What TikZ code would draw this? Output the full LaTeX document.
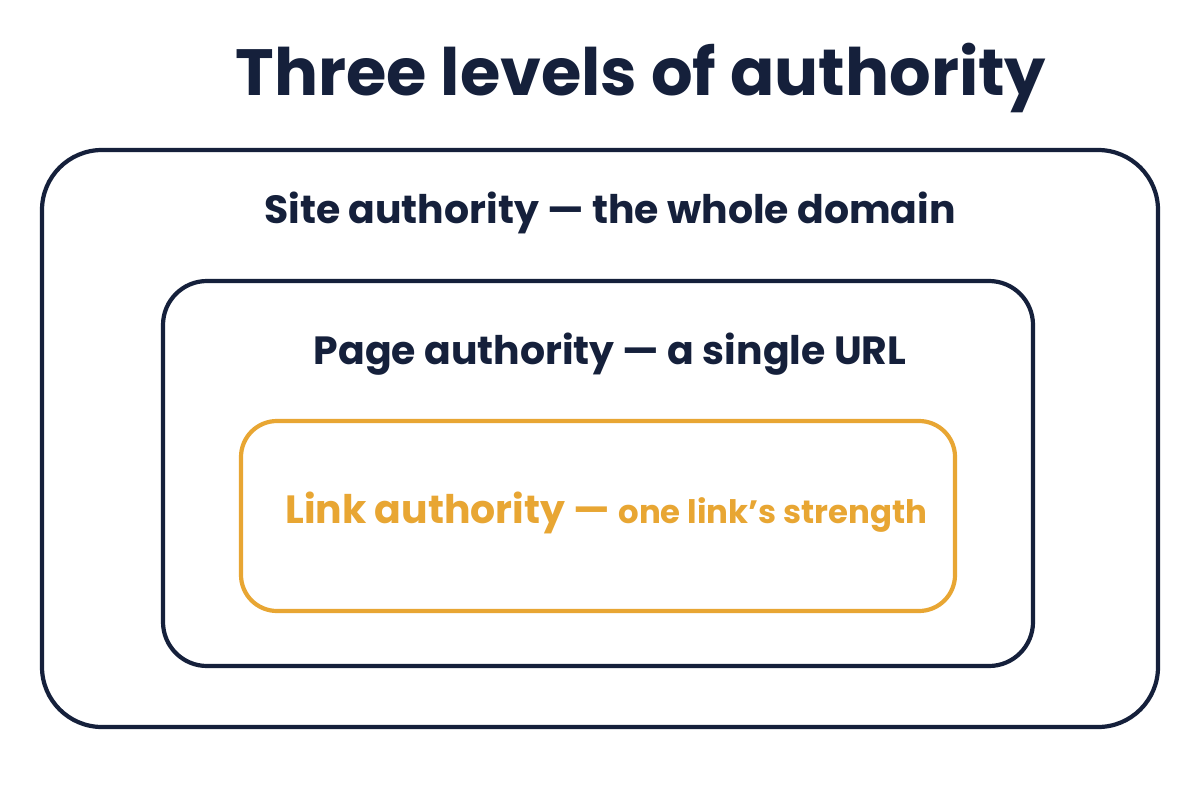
\documentclass[tikz,border=0pt]{standalone}
\usepackage{fontspec}
\setmainfont{Poppins}
\definecolor{navy}{HTML}{15203B}
\definecolor{gold}{HTML}{E8A633}
\begin{document}
\begin{tikzpicture}[x=0.025cm,y=-0.025cm,
  box/.style={line width=4.2pt*0.711},
  lbl/.style={text=navy,font=\fontsize{28}{32}\selectfont\bfseries,anchor=center}]
\useasboundingbox[fill=white] (0,0) rectangle (1200,800);
\node[text=navy,font=\fontsize{46.5}{50}\selectfont\bfseries] (title) at (641,78) {Three levels of authority};
\draw[box,navy,rounded corners=1.5cm] (42,150) rectangle (1158,727);
\node[lbl] (site) at (610,213) {Site authority — the whole domain};
\draw[box,navy,rounded corners=1.1cm] (163,281) rectangle (1033,666);
\node[lbl] (page) at (610,354) {Page authority — a single URL};
\draw[box,gold,rounded corners=0.9cm] (241,421) rectangle (955,611);
\node[text=gold,anchor=west,inner sep=0pt] (link) at (285,513) {\fontsize{28}{32}\selectfont\bfseries Link authority — \fontsize{23}{26}\selectfont one link’s strength};
\end{tikzpicture}
\end{document}
